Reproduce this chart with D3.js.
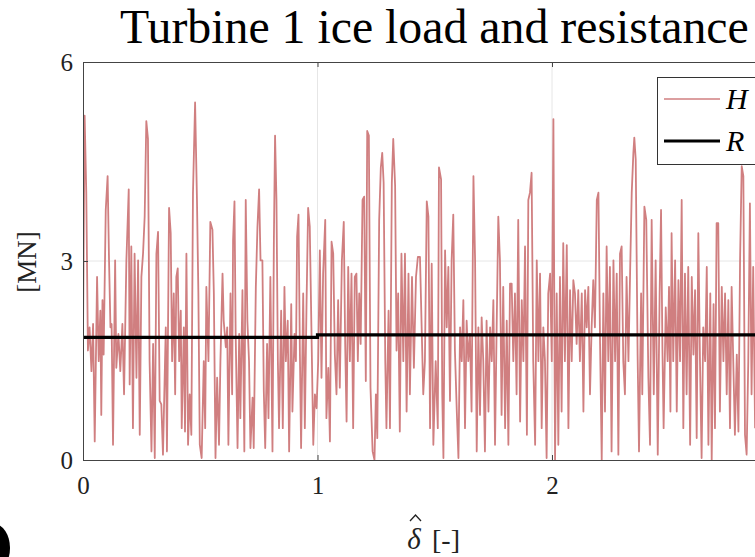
<!DOCTYPE html>
<html>
<head>
<meta charset="utf-8">
<script src="https://cdn.jsdelivr.net/npm/d3@7"></script>
<style>
html,body{margin:0;padding:0;background:#fff;overflow:hidden;}
svg{display:block;}
text{font-family:"Liberation Serif","DejaVu Serif",serif;}
</style>
</head>
<body>
<svg id="chart" width="755" height="557"></svg>
<script>
// ---- data ----
const title = "Turbine 1 ice load and resistance";
const xTicks = [0, 1, 2];
const yTicks = [0, 3, 6];
const xLabels = ["0", "1", "2"];
const yLabels = ["0", "3", "6"];

// ice load H (MN) vs normalised displacement delta-hat
const delta = [
0,.007,.014,.021,.028,.036,.043,.050,.060,.067,.074,.078,.083,.088,.097,.105,.111,.117,.122,.128,
.137,.142,.151,.159,.168,.175,.185,.195,.199,.206,.213,.220,.228,.235,.242,.249,.256,.263,.270,.277,
.284,.292,.299,.306,.313,.320,.327,.334,.341,.353,.358,.367,.374,.380,.387,.393,.398,.404,.410,.417,
.421,.430,.435,.441,.448,.455,.462,.469,.478,.486,.492,.498,.506,.515,.521,.526,.535,.543,.552,.558,
.565,.572,.580,.586,.595,.600,.609,.615,.620,.629,.636,.640,.646,.651,.659,.666,.671,.680,.688,.694,
.701,.708,.714,.723,.728,.737,.744,.751,.757,.765,.771,.777,.785,.791,.799,.808,.814,.819,.825,.831,
.836,.845,.852,.859,.865,.873,.879,.888,.893,.902,.908,.913,.919,.925,.930,.939,.946,.953,.960,.967,
.974,.982,.989,.996,1.003,1.010,1.017,1.024,1.033,1.038,1.046,1.053,1.060,1.067,1.074,1.081,1.088,1.095,1.104,1.112,
1.118,1.124,1.131,1.138,1.145,1.152,1.159,1.166,1.172,1.178,1.184,1.192,1.199,1.206,1.212,1.219,1.226,1.235,1.243,1.249,
1.255,1.263,1.270,1.276,1.282,1.289,1.294,1.303,1.309,1.317,1.323,1.331,1.337,1.344,1.351,1.358,1.366,1.373,1.380,1.388,
1.394,1.403,1.411,1.420,1.428,1.437,1.451,1.458,1.466,1.473,1.480,1.487,1.494,1.504,1.513,1.518,1.527,1.532,1.537,1.544,
1.551,1.558,1.565,1.572,1.579,1.586,1.594,1.601,1.608,1.615,1.622,1.629,1.636,1.643,1.650,1.657,1.665,1.672,1.679,1.686,
1.693,1.700,1.707,1.714,1.721,1.729,1.736,1.743,1.750,1.757,1.764,1.771,1.778,1.785,1.792,1.800,1.807,1.814,1.821,1.828,
1.835,1.842,1.849,1.856,1.864,1.871,1.878,1.885,1.893,1.899,1.906,1.913,1.920,1.928,1.935,1.942,1.949,1.956,1.963,1.970,
1.977,1.984,1.992,1.999,2.006,2.013,2.020,2.027,2.034,2.041,2.048,2.055,2.063,2.070,2.077,2.084,2.091,2.098,2.105,2.112,
2.119,2.127,2.134,2.141,2.148,2.155,2.162,2.169,2.176,2.183,2.191,2.198,2.205,2.212,2.219,2.226,2.233,2.240,2.247,2.254,
2.262,2.269,2.276,2.283,2.290,2.297,2.304,2.311,2.318,2.326,2.333,2.340,2.347,2.351,2.357,2.365,2.371,2.380,2.385,2.394,
2.402,2.411,2.418,2.425,2.434,2.442,2.451,2.459,2.465,2.471,2.476,2.485,2.493,2.499,2.505,2.510,2.517,2.525,2.532,2.539,
2.546,2.553,2.560,2.567,2.574,2.581,2.589,2.596,2.603,2.610,2.617,2.624,2.631,2.638,2.645,2.653,2.660,2.667,2.675,2.681,
2.689,2.695,2.702,2.709,2.716,2.724,2.731,2.738,2.745,2.752,2.759,2.766,2.773,2.780,2.788,2.795,2.802,2.809,2.816,2.823,
2.830,2.837,2.844,2.851,2.858,2.866
];
const H = [
1.85,5.19,4.03,1.65,2.00,1.34,2.05,0.28,2.76,1.49,2.25,0.68,2.41,1.59,3.77,4.28,3.01,2.00,2.05,0.23,
3.01,1.39,1.90,1.34,2.05,0.99,3.01,4.08,1.14,3.22,0.48,3.11,1.24,3.01,0.38,2.76,3.11,3.67,5.11,4.84,
1.49,0.13,1.75,0.03,3.11,3.44,0.89,0.84,0.08,2.00,0.13,3.80,3.42,1.49,2.51,0.99,2.76,2.89,1.49,2.25,
0.48,2.00,0.43,3.11,0.23,0.99,0.38,4.03,5.39,3.92,2.51,0.23,0.03,1.49,0.48,2.61,1.49,3.59,3.47,2.51,
0.03,1.24,0.23,1.49,2.81,2.10,1.70,2.00,0.23,2.51,0.99,3.32,3.90,1.90,0.18,1.90,0.63,2.56,0.13,3.92,
2.10,1.49,0.18,0.94,0.18,2.61,3.52,4.08,3.01,3.01,1.04,0.18,1.75,0.63,2.76,0.13,3.32,4.89,3.92,1.49,
0.48,2.25,0.48,2.61,1.49,2.10,0.13,2.35,0.73,1.90,1.49,3.37,3.70,1.59,0.18,2.51,0.48,2.30,3.80,3.52,
2.00,0.23,0.99,0.78,1.49,3.16,1.24,2.81,3.62,0.63,1.39,0.28,3.29,3.11,1.59,0.99,2.41,1.09,3.01,3.59,
1.75,0.58,2.91,1.49,2.81,0.48,2.76,2.81,1.49,2.51,1.75,3.92,3.97,1.19,4.96,4.89,1.09,0.13,0.00,0.99,
0.33,3.62,4.41,4.63,4.18,1.49,0.48,2.25,0.48,4.18,4.84,4.13,1.65,2.51,0.43,3.11,1.49,3.11,0.73,2.81,
0.99,2.76,1.39,2.76,3.06,3.06,0.99,1.49,3.90,3.67,0.48,2.96,0.23,1.49,0.48,4.41,4.23,0.99,0.03,3.16,
2.00,2.91,0.89,3.01,3.70,1.65,0.73,0.03,2.00,1.49,2.41,0.48,2.10,1.49,1.90,0.73,4.28,3.01,0.13,2.00,
0.68,2.15,1.49,0.13,2.10,0.73,2.00,1.49,2.41,0.23,2.00,3.67,3.01,0.68,2.61,0.48,2.10,0.23,2.66,2.66,
1.49,2.51,0.99,3.62,0.58,2.41,1.49,3.22,0.38,3.92,4.03,4.33,1.49,0.23,3.01,1.49,2.81,0.48,2.00,1.49,
0.03,2.51,2.81,1.49,5.14,0.00,2.51,0.23,2.76,0.73,3.27,1.49,3.24,0.48,2.56,1.49,2.71,2.51,1.75,2.56,
1.49,2.51,0.73,2.56,2.00,2.61,0.99,2.00,2.71,2.00,3.92,4.03,1.75,0.00,2.51,0.73,3.22,1.49,2.91,0.13,
3.01,1.49,2.81,0.08,3.11,3.22,1.49,0.99,2.76,1.49,2.81,4.03,4.63,4.86,4.53,1.59,0.13,2.51,0.99,3.82,
3.62,1.24,0.23,3.62,0.99,3.01,0.08,2.51,3.77,1.65,0.48,2.30,1.49,2.61,0.73,3.42,1.49,3.01,0.73,2.71,
1.49,3.92,0.48,2.81,0.99,2.91,0.23,2.76,1.59,2.56,0.33,3.42,1.49,0.03,2.00,1.49,2.91,0.23,2.51,0.00,
2.35,0.48,3.57,3.57,0.73,2.61,1.49,2.51,0.99,2.41,0.48,2.61,1.49,0.38,1.59,0.43,3.01,4.43,4.28,0.38,
0.08,1.49,3.87,0.99,2.91,0.48
];
// ice resistance R (MN), step at delta-hat = 1
const rDelta = [0, 1, 1, 3];
const R = [1.85, 1.85, 1.885, 1.885];
const legendNames = ["H", "R"];

// ---- drawing ----
const svg = d3.select("#chart");
const x = d3.scaleLinear().domain([0, 3]).range([83, 786.5]);
const y = d3.scaleLinear().domain([0, 6]).range([460, 62]);

svg.append("defs").append("clipPath").attr("id", "plotclip")
  .append("rect").attr("x", x(0)).attr("y", y(6)).attr("width", x(3) - x(0)).attr("height", y(0) - y(6));

// grid
const g = svg.append("g");
g.selectAll(".vg").data(xTicks.filter(d => d > 0)).join("line")
  .attr("x1", d => x(d)).attr("x2", d => x(d)).attr("y1", y(0)).attr("y2", y(6))
  .attr("stroke", "#e6e6e6").attr("stroke-width", 1);
g.selectAll(".hg").data(yTicks.filter(d => d > 0 && d < 6)).join("line")
  .attr("x1", x(0)).attr("x2", x(3)).attr("y1", d => y(d)).attr("y2", d => y(d))
  .attr("stroke", "#e6e6e6").attr("stroke-width", 1);

// series
const pts = delta.map((d, i) => [d, H[i]]);
const line = d3.line().x(d => x(d[0])).y(d => y(d[1]));
svg.append("path").datum(pts).attr("d", line)
  .attr("clip-path", "url(#plotclip)")
  .attr("fill", "none").attr("stroke", "#d07f80").attr("stroke-width", 1.8)
  .attr("stroke-linejoin", "round");

const rpts = rDelta.map((d, i) => [d, R[i]]);
svg.append("path").datum(rpts).attr("d", line)
  .attr("clip-path", "url(#plotclip)")
  .attr("fill", "none").attr("stroke", "#000").attr("stroke-width", 3.2);

// axes
const xAxis = d3.axisBottom(x).tickValues(xTicks).tickFormat((d, i) => xLabels[i])
  .tickSizeInner(-5).tickSizeOuter(0).tickPadding(16);
const ax = svg.append("g").attr("transform", `translate(0,${y(0)})`).call(xAxis);
ax.select(".domain").attr("stroke", "#444");
ax.selectAll(".tick line").attr("stroke", "#444");
ax.selectAll(".tick text").attr("font-size", 25).attr("fill", "#222")
  .attr("font-family", "Liberation Serif");

const xTop = d3.axisTop(x).tickValues(xTicks).tickFormat("").tickSizeInner(-5).tickSizeOuter(0);
const axt = svg.append("g").attr("transform", `translate(0,${y(6)})`).call(xTop);
axt.select(".domain").attr("stroke", "#444");
axt.selectAll(".tick line").attr("stroke", "#444");

const yAxis = d3.axisLeft(y).tickValues(yTicks).tickFormat((d, i) => yLabels[i])
  .tickSizeInner(-5).tickSizeOuter(0).tickPadding(10);
const ay = svg.append("g").attr("transform", `translate(${x(0)},0)`).call(yAxis);
ay.select(".domain").attr("stroke", "#444");
ay.selectAll(".tick line").attr("stroke", "#444");
ay.selectAll(".tick text").attr("font-size", 25).attr("fill", "#222")
  .attr("font-family", "Liberation Serif");

// title
svg.append("text").attr("x", 120).attr("y", 43).attr("font-size", 47.8).attr("fill", "#000")
  .text(title);

// axis labels
svg.append("text").attr("x", 414).attr("y", 549).attr("text-anchor", "middle")
  .attr("font-size", 29).attr("font-style", "italic").attr("fill", "#222").text("δ");
// hat accent drawn as a small chevron above the delta
svg.append("path").attr("d", "M410,521 L415.5,515 L421,521")
  .attr("fill", "none").attr("stroke", "#222").attr("stroke-width", 1.3);
svg.append("text").attr("x", 432).attr("y", 549)
  .attr("font-size", 28).attr("fill", "#222").text("[-]");

svg.append("text").attr("transform", "translate(36,262) rotate(-90)")
  .attr("text-anchor", "middle").attr("font-size", 27).attr("fill", "#222").text("[MN]");

// legend
const lg = svg.append("g");
lg.append("rect").attr("x", 657.5).attr("y", 77.5).attr("width", 140).attr("height", 87)
  .attr("fill", "#fff").attr("stroke", "#333").attr("stroke-width", 1);
const legendStyles = [
  {color: "#d07f80", w: 1.6, yy: 99},
  {color: "#000", w: 3.2, yy: 141}
];
legendNames.forEach((name, i) => {
  const it = legendStyles[i];
  lg.append("line").attr("x1", 664).attr("x2", 720).attr("y1", it.yy).attr("y2", it.yy)
    .attr("stroke", it.color).attr("stroke-width", it.w);
  lg.append("text").attr("x", 726).attr("y", it.yy + 10).attr("font-size", 30)
    .attr("font-style", "italic").attr("fill", "#000").text(name);
});

// dark blob at lower-left corner of the image
svg.append("ellipse").attr("cx", -6).attr("cy", 548).attr("rx", 16).attr("ry", 24).attr("fill", "#000");
</script>
</body>
</html>
